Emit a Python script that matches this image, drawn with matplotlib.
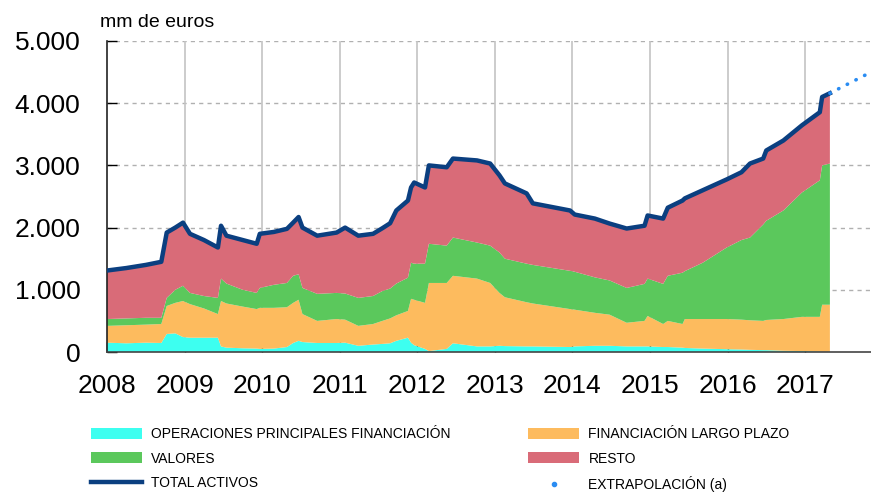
import numpy as np
import matplotlib
matplotlib.use("Agg")
import matplotlib.pyplot as plt
from matplotlib.patches import Patch
from matplotlib.lines import Line2D

plt.rcParams['font.family'] = ['Liberation Sans', 'DejaVu Sans']

# fechas (años decimales) y niveles (mm de euros)
fechas = [2008.00, 2008.25, 2008.50, 2008.70, 2008.77, 2008.88, 2008.98, 2009.07,
          2009.25, 2009.43, 2009.47, 2009.54, 2009.75, 2009.93, 2009.97, 2010.15,
          2010.32, 2010.40, 2010.47, 2010.52, 2010.71, 2010.96, 2011.07, 2011.24,
          2011.43, 2011.55, 2011.65, 2011.73, 2011.88, 2011.92, 2011.96, 2012.10,
          2012.15, 2012.38, 2012.46, 2012.77, 2012.94, 2013.06, 2013.13, 2013.41,
          2013.49, 2013.97, 2014.03, 2014.29, 2014.48, 2014.70, 2014.93, 2014.97,
          2015.17, 2015.23, 2015.42, 2015.45, 2015.68, 2015.99, 2016.18, 2016.29,
          2016.46, 2016.50, 2016.72, 2016.96, 2017.19, 2017.22, 2017.32]

opf = [150, 140, 150, 145, 290, 300, 240, 230,
       230, 230, 90, 70, 60, 55, 50, 55,
       80, 145, 180, 160, 145, 145, 150, 100,
       120, 130, 140, 180, 230, 150, 110, 50,
       15, 50, 140, 90, 90, 100, 95, 90,
       90, 80, 90, 100, 100, 90, 90, 90,
       80, 80, 70, 65, 55, 45, 40, 35,
       30, 30, 20, 15, 8, 5, 5]

largo_plazo = [270, 290, 290, 305, 450, 490, 580, 540,
               470, 380, 730, 710, 670, 635, 660, 655,
               640, 645, 660, 450, 355, 385, 370, 320,
               330, 370, 400, 410, 430, 705, 730, 740,
               1095, 1060, 1085, 1090, 1020, 850, 785, 710,
               690, 610, 590, 530, 500, 380, 410, 490,
               370, 420, 380, 465, 475, 485, 480, 475,
               470, 485, 510, 550, 557, 755, 755]

valores = [110, 110, 110, 100, 130, 210, 245, 180,
           200, 260, 360, 320, 270, 260, 320, 370,
           390, 435, 410, 420, 435, 420, 420, 450,
           450, 480, 480, 510, 535, 580, 580, 630,
           630, 600, 615, 580, 600, 650, 620, 620,
           620, 615, 610, 570, 550, 560, 595, 600,
           645, 725, 825, 770, 905, 1150, 1280, 1330,
           1550, 1595, 1745, 2000, 2195, 2240, 2270]

resto = [780, 810, 850, 900, 1050, 1000, 1015, 950,
         900, 810, 850, 770, 800, 790, 870, 850,
         870, 855, 920, 970, 935, 970, 1060, 1000,
         1000, 1010, 1050, 1175, 1240, 1210, 1305, 1225,
         1260, 1260, 1270, 1320, 1320, 1240, 1210, 1130,
         990, 970, 920, 945, 915, 955, 935, 1015,
         1050, 1095, 1160, 1170, 1165, 1095, 1090, 1190,
         1060, 1130, 1125, 1080, 1095, 1100, 1130]

# total activos = suma de componentes; extrapolación al final
extrap_fechas = [2017.32, 2017.85]
extrap_valores = [4160, 4500]

anios = list(range(2008, 2018))
yticks = [0, 1000, 2000, 3000, 4000, 5000]
ytick_labels = ['0', '1.000', '2.000', '3.000', '4.000', '5.000']

c_opf = '#3dfff0'
c_lp = '#fdbb5e'
c_val = '#5bc85c'
c_resto = '#d96b78'
c_total = '#0b3f80'
c_extrap = '#2a8cf2'

fig = plt.figure(figsize=(8.71, 4.93), dpi=100)
ax = fig.add_axes([107 / 871, 1 - 352 / 493, 1 - 107 / 871, 311 / 493])

x = np.array(fechas)
ax.stackplot(x, opf, largo_plazo, valores, resto,
             colors=[c_opf, c_lp, c_val, c_resto], linewidth=0, zorder=2)
total = np.array(opf) + np.array(largo_plazo) + np.array(valores) + np.array(resto)
ax.plot(x, total, color=c_total, lw=3.2, zorder=3, solid_joinstyle='round')
ax.plot(extrap_fechas, extrap_valores, color=c_extrap, lw=2.6,
        linestyle=(0, (0.1, 2.6)), dash_capstyle='round', zorder=3)

ax.set_xlim(2008, 2017.85)
ax.set_ylim(0, 5000)

for yv in yticks[1:]:
    ax.axhline(yv, color='#b0b0b0', lw=1, ls=(0, (3, 3)), zorder=0)
for a in anios[1:]:
    ax.axvline(a, color='#c4c4c4', lw=1.2, zorder=0)

ax.set_yticks(yticks)
ax.set_yticklabels(ytick_labels, fontsize=19)
ax.set_xticks(anios)
ax.set_xticklabels([str(a) for a in anios], fontsize=19)
ax.tick_params(axis='y', direction='in', length=7, width=1, pad=19)
ax.tick_params(axis='x', direction='in', length=7, width=1, pad=16)

for s in ['top', 'right']:
    ax.spines[s].set_visible(False)
ax.spines['left'].set_color('#222222')
ax.spines['bottom'].set_color('#444444')
ax.spines['left'].set_linewidth(1.2)
ax.spines['bottom'].set_linewidth(1.2)

fig.text(100 / 871, 1 - 27 / 493, 'mm de euros', fontsize=14, ha='left', va='baseline')

leg_font = {'family': ['Liberation Sans'], 'size': 10}
h1 = [Patch(facecolor=c_opf, edgecolor='none'),
      Patch(facecolor=c_val, edgecolor='none'),
      Line2D([], [], color=c_total, lw=3.2)]
l1 = ['OPERACIONES PRINCIPALES FINANCIACIÓN', 'VALORES', 'TOTAL ACTIVOS']
h2 = [Patch(facecolor=c_lp, edgecolor='none'),
      Patch(facecolor=c_resto, edgecolor='none'),
      Line2D([], [], color=c_extrap, marker='o', ms=3, lw=0)]
l2 = ['FINANCIACIÓN LARGO PLAZO', 'RESTO', 'EXTRAPOLACIÓN (a)']

for hs, ls, x0 in [(h1, l1, 91), (h2, l2, 528)]:
    fig.legend(hs, ls, loc='upper left', bbox_to_anchor=(x0 / 871, 1 - 427 / 493),
               frameon=False, prop=leg_font, borderpad=0, borderaxespad=0,
               handlelength=3.7, handleheight=0.85, handletextpad=0.65,
               labelspacing=0.76)

fig.savefig('out.png', dpi=100)
